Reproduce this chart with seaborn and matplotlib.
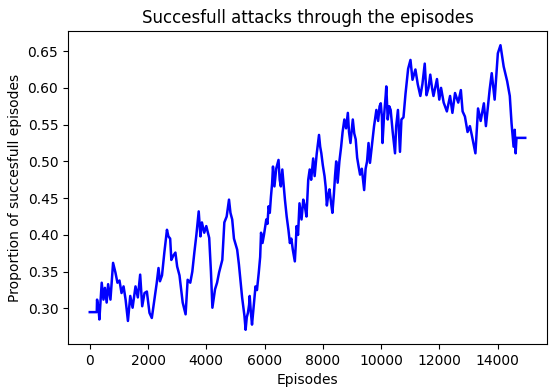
import numpy as np
import pandas as pd
import matplotlib
matplotlib.use("Agg")
import matplotlib.pyplot as plt
import seaborn as sns

episodes = [0, 240, 250, 300, 330, 410, 470, 520, 580, 630, 710, 800, 880, 950, 1020, 1090, 1160, 1230, 1310, 1390,
            1470, 1570, 1650, 1730, 1800, 1880, 1960, 2050, 2130, 2220, 2300, 2360, 2410, 2480, 2560, 2650, 2700, 2760,
            2800, 2870, 2940, 3000, 3080, 3190, 3290, 3360, 3450, 3520, 3590, 3660, 3740, 3800, 3850, 3930, 4000, 4100,
            4160, 4210, 4300, 4370, 4440, 4550, 4620, 4700, 4780, 4830, 4890, 4950,
            5060, 5120, 5180, 5230, 5270, 5310, 5350, 5390, 5430, 5470, 5490, 5530, 5570, 5620, 5690, 5740, 5800, 5850,
            5880, 5930, 5980, 6060, 6100, 6140, 6180, 6220, 6260, 6290, 6340, 6400, 6480, 6520, 6560, 6610, 6650, 6700,
            6760, 6820, 6870, 6920, 6970, 7040, 7070, 7100, 7150, 7200, 7240, 7270, 7330, 7380, 7440, 7500, 7550, 7600,
            7670, 7720, 7790, 7870, 7910, 7950, 8000, 8060, 8100, 8140, 8190, 8230, 8280, 8330, 8380, 8420, 8460, 8510,
            8570, 8630, 8680, 8740, 8800, 8860, 8900, 8950, 9030, 9080, 9130, 9180, 9230, 9280, 9340, 9420, 9470, 9520,
            9570, 9620, 9680, 9760, 9840, 9900, 9950, 9990, 10030, 10050, 10100, 10160, 10180, 10230, 10280, 10330,
            10400, 10480,
            10520, 10580, 10650, 10700, 10770, 10840, 10930, 11010, 11080, 11180, 11260, 11350, 11420, 11500, 11560,
            11630, 11690, 11750, 11800, 11920, 12000, 12060, 12150, 12260, 12370, 12450, 12540, 12650, 12740, 12800,
            12880, 12970, 13050, 13120, 13240, 13330, 13420, 13530, 13600, 13730, 13800, 13900, 14010, 14100, 14150,
            14210, 14330, 14420, 14480, 14550, 14590, 14620, 14650, 14950]

proportion = [0.295, 0.295, 0.312, 0.300, 0.285, 0.335, 0.312, 0.328, 0.308, 0.333, 0.312, 0.362, 0.349, 0.335, 0.338,
              0.321, 0.330, 0.312, 0.283, 0.317, 0.301, 0.330, 0.315, 0.346, 0.303, 0.321, 0.323, 0.294, 0.287, 0.312,
              0.335, 0.355, 0.337, 0.345, 0.376, 0.407, 0.398, 0.395, 0.366, 0.372, 0.376, 0.357, 0.345, 0.308, 0.292,
              0.339, 0.335, 0.350, 0.376, 0.400, 0.432, 0.398, 0.417, 0.403, 0.412, 0.396, 0.350, 0.301, 0.326, 0.335,
              0.349, 0.366, 0.417, 0.425, 0.448, 0.430, 0.421, 0.395,
              0.380, 0.360, 0.335, 0.315, 0.303, 0.290, 0.271, 0.288, 0.294, 0.305, 0.317, 0.295, 0.278, 0.300, 0.330,
              0.325, 0.348, 0.370, 0.403, 0.389, 0.400, 0.421, 0.415, 0.439, 0.430, 0.452, 0.470, 0.493, 0.466, 0.490,
              0.502, 0.475, 0.466, 0.489, 0.470, 0.448, 0.425, 0.407, 0.389, 0.395, 0.380, 0.364, 0.385, 0.412, 0.400,
              0.443, 0.430, 0.421, 0.448, 0.440, 0.425, 0.475, 0.489, 0.475, 0.504, 0.480, 0.510, 0.536, 0.520, 0.511,
              0.495, 0.480, 0.465, 0.440, 0.455, 0.462, 0.445, 0.430, 0.455, 0.480, 0.500, 0.471, 0.500, 0.520, 0.540,
              0.557, 0.545, 0.566, 0.540, 0.525, 0.557, 0.538, 0.530, 0.505, 0.493, 0.482, 0.490, 0.461, 0.490, 0.500,
              0.525, 0.498, 0.520, 0.548, 0.570, 0.555, 0.575, 0.579, 0.560, 0.525, 0.560, 0.590, 0.602, 0.557, 0.575,
              0.570, 0.540, 0.511,
              0.548, 0.570, 0.513, 0.557, 0.560,
              0.592, 0.626, 0.638, 0.611, 0.625, 0.605, 0.589, 0.605, 0.633, 0.590, 0.600, 0.618, 0.600, 0.589, 0.612,
              0.584, 0.600, 0.580, 0.568, 0.589, 0.566, 0.593, 0.580, 0.597, 0.568, 0.561, 0.540, 0.548, 0.535, 0.511,
              0.572, 0.555, 0.579, 0.548, 0.598, 0.620, 0.584, 0.647, 0.658, 0.645, 0.629, 0.609, 0.589, 0.552, 0.520,
              0.543, 0.511, 0.532, 0.532]

title = "Succesfull attacks through the episodes"
xlabel = "Episodes"
ylabel = "Proportion of succesfull episodes"

df = pd.DataFrame({"episode": episodes, "proportion": proportion})

dpi = 100
fig, ax = plt.subplots(figsize=(551 / dpi, 391 / dpi), dpi=dpi)
sns.lineplot(data=df, x="episode", y="proportion", color="blue", linewidth=1.8, ax=ax)
ax.set_title(title)
ax.set_xlabel(xlabel)
ax.set_ylabel(ylabel)
fig.subplots_adjust(left=68 / 551, right=547 / 551, top=1 - 31 / 391, bottom=1 - 344 / 391)
fig.savefig("out.png", dpi=dpi)
